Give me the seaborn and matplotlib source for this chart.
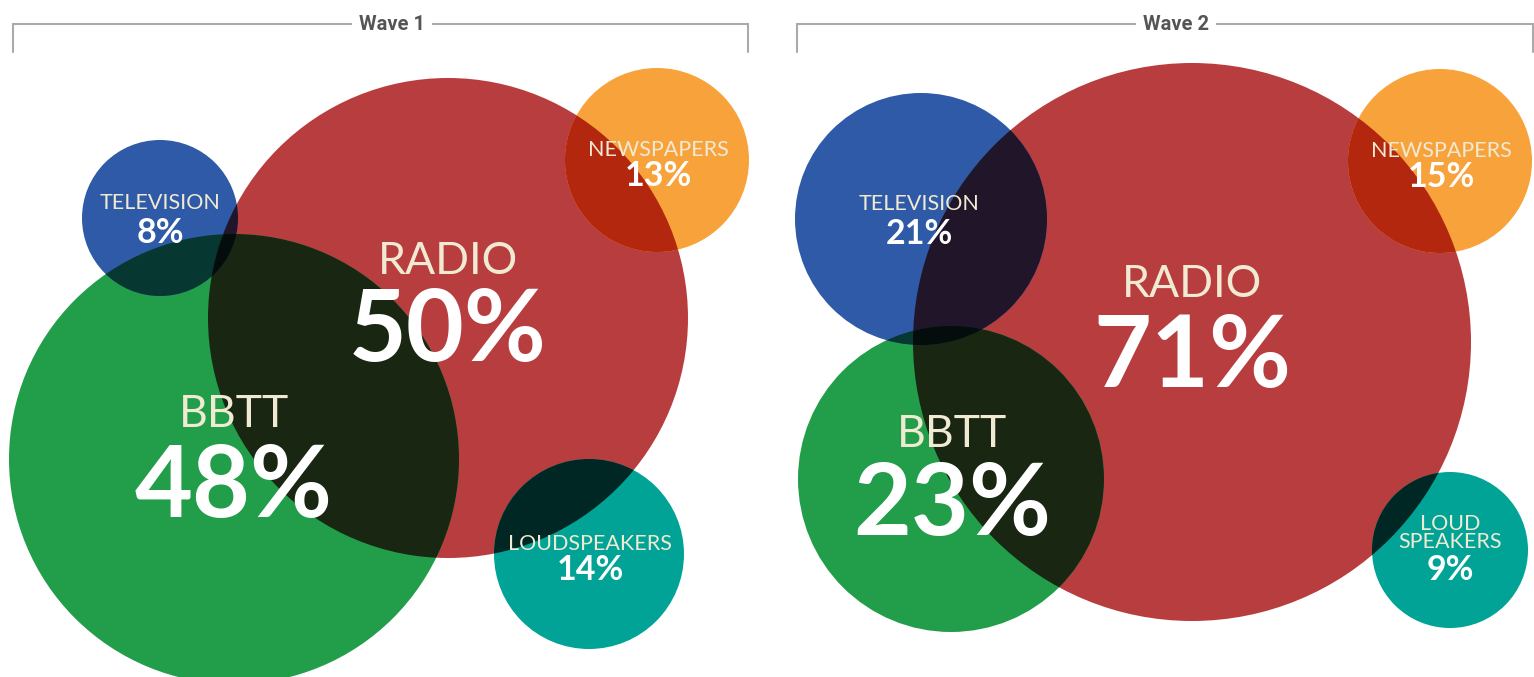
import numpy as np
import matplotlib
matplotlib.use("Agg")
import matplotlib.pyplot as plt
from matplotlib.patches import Circle, Polygon
from matplotlib import colors as mcolors
import seaborn as sns

# ---------------- data ----------------
waves = ["Wave 1", "Wave 2"]
media = ["RADIO", "BBTT", "TELEVISION", "NEWSPAPERS", "LOUDSPEAKERS"]
wave1_pct = [50, 48, 8, 13, 14]
wave2_pct = [71, 23, 21, 15, 9]
wave1_labels = ["RADIO", "BBTT", "TELEVISION", "NEWSPAPERS", "LOUDSPEAKERS"]
wave2_labels = ["RADIO", "BBTT", "TELEVISION", "NEWSPAPERS", "LOUD\nSPEAKERS"]

# ---------------- styles ----------------
media_colors = {
    "RADIO": "#b83d3e",
    "BBTT": "#229e4a",
    "TELEVISION": "#2e5aa8",
    "NEWSPAPERS": "#f8a23c",
    "LOUDSPEAKERS": "#00a396",
}
label_color = "#f1ead3"
value_color = "#ffffff"
header_color = "#555555"
bracket_color = "#aaaaaa"

# ---------------- layout (pixel space) ----------------
layout = {
    "Wave 1": {
        "cx": [448, 234, 160, 657, 589],
        "cy": [318, 459, 218, 160, 554],
        "r":  [240, 225, 78, 92, 95],
        "label_base": [274, 427, 209, 156, 550],
        "value_base": [361, 517, 243, 186, 580],
        "text_x": [448, 234, 160, 658, 590],
        "big": [True, True, False, False, False],
    },
    "Wave 2": {
        "cx": [1192, 951, 921, 1440, 1450],
        "cy": [342, 479, 219, 161, 550],
        "r":  [279, 153, 126, 92, 78],
        "label_base": [297, 447, 210, 157, 548],
        "value_base": [387, 535, 244, 187, 580],
        "text_x": [1192, 952, 919, 1441, 1450],
        "big": [True, True, False, False, False],
    },
}
brackets = {"Wave 1": (13, 748, 392), "Wave 2": (797, 1533, 1176)}
bracket_top, bracket_bottom = 24, 52

sns.set_theme(style="white")
plt.rcParams["font.family"] = ["Lato", "DejaVu Sans"]

fig = plt.figure(figsize=(15.34, 6.77), dpi=100)
ax = fig.add_axes([0, 0, 1, 1])
ax.set_xlim(0, 1534)
ax.set_ylim(677, 0)
ax.axis("off")


def multiply(*cols):
    out = np.ones(3)
    for c in cols:
        out = out * np.array(mcolors.to_rgb(c))
    return tuple(out)


def lens_polygon(c1, c2, n=720):
    t = np.linspace(0, 2 * np.pi, n, endpoint=False)
    pts = []
    for (xa, ya, ra), (xb, yb, rb) in ((c1, c2), (c2, c1)):
        px = xa + ra * np.cos(t)
        py = ya + ra * np.sin(t)
        inside = (px - xb) ** 2 + (py - yb) ** 2 <= rb ** 2
        pts.append(np.column_stack([px[inside], py[inside]]))
    pts = np.vstack(pts)
    if len(pts) < 3:
        return None
    m = pts.mean(axis=0)
    ang = np.arctan2(pts[:, 1] - m[1], pts[:, 0] - m[0])
    return pts[np.argsort(ang)]


for wave, values, labels in zip(waves, [wave1_pct, wave2_pct], [wave1_labels, wave2_labels]):
    L = layout[wave]
    circles = list(zip(L["cx"], L["cy"], L["r"]))
    cols = [media_colors[m] for m in media]
    for (x, y, r), c in zip(circles, cols):
        ax.add_patch(Circle((x, y), r, facecolor=c, edgecolor="none", zorder=1))
    n = len(circles)

    def overlaps(i, j):
        (x1, y1, r1), (x2, y2, r2) = circles[i], circles[j]
        return np.hypot(x1 - x2, y1 - y2) < r1 + r2

    for i in range(n):
        for j in range(i + 1, n):
            if overlaps(i, j):
                clip = Circle(circles[i][:2], circles[i][2], transform=ax.transData)
                p = Circle(circles[j][:2], circles[j][2], facecolor=multiply(cols[i], cols[j]),
                           edgecolor="none", zorder=2)
                ax.add_patch(p)
                p.set_clip_path(clip)
    for i in range(n):
        for j in range(i + 1, n):
            for k in range(j + 1, n):
                if overlaps(i, j) and overlaps(i, k) and overlaps(j, k):
                    poly = lens_polygon(circles[i], circles[j])
                    if poly is None:
                        continue
                    clip = Circle(circles[k][:2], circles[k][2], transform=ax.transData)
                    p = Polygon(poly, closed=True, facecolor=multiply(cols[i], cols[j], cols[k]),
                                edgecolor="none", zorder=3)
                    ax.add_patch(p)
                    p.set_clip_path(clip)
    for idx, (val, lab) in enumerate(zip(values, labels)):
        big = L["big"][idx]
        tx = L["text_x"][idx]
        lsize = 32 if big else 15.5
        vsize = 72 if big else 24.5
        ax.text(tx, L["label_base"][idx], lab, ha="center", va="baseline",
                fontsize=lsize, color=label_color, fontweight="normal",
                linespacing=0.9, zorder=5)
        ax.text(tx, L["value_base"][idx], f"{val}%", ha="center", va="baseline",
                fontsize=vsize, color=value_color, fontweight="bold", zorder=5)

    x0, x1, xm = brackets[wave]
    ax.plot([x0, x0, x1, x1], [bracket_bottom, bracket_top, bracket_top, bracket_bottom],
            color=bracket_color, lw=1.5, solid_joinstyle="miter", zorder=4)
    ax.text(xm, bracket_top, wave, ha="center", va="center", fontsize=14.5,
            fontweight="bold", color=header_color,
            family=["Roboto", "DejaVu Sans"],
            bbox=dict(facecolor="white", edgecolor="none", pad=5), zorder=5)

fig.savefig("out.png", dpi=100, facecolor="white")
